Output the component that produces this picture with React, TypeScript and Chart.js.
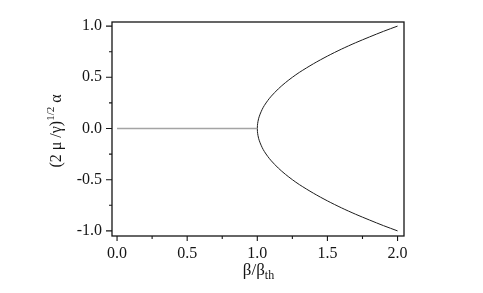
import React, { useEffect, useRef } from "react";
import { Chart, registerables } from "chart.js";

Chart.register(...registerables);

// Threshold (flat) branch: alpha = 0 for beta/beta_th below 1
const flatBeta = [0.0, 1.0];
const flatAlpha = [0.0, 0.0];

// Bifurcated branch (lower half then upper half)
const branchBeta = [1.0, 1.001, 1.005, 1.01, 1.02, 1.035, 1.05, 1.075, 1.1, 1.15, 1.2, 1.25, 1.3, 1.4, 1.5, 1.6, 1.7, 1.8, 1.9, 2.0];
const upperAlpha = [0.0, 0.03, 0.07, 0.1, 0.14, 0.187, 0.224, 0.274, 0.316, 0.387, 0.447, 0.5, 0.548, 0.632, 0.707, 0.775, 0.837, 0.894, 0.949, 1.0];
const lowerAlpha = [0.0, -0.03, -0.07, -0.1, -0.14, -0.187, -0.224, -0.274, -0.316, -0.387, -0.447, -0.5, -0.548, -0.632, -0.707, -0.775, -0.837, -0.894, -0.949, -1.0];

const xMajorTicks = [0, 0.5, 1.0, 1.5, 2.0];
const xMinorTicks = [0.25, 0.75, 1.25, 1.75];
const yMajorTicks = [-1.0, -0.5, 0.0, 0.5, 1.0];
const yMinorTicks = [-0.75, -0.25, 0.25, 0.75];

const FONT = "'Liberation Serif', 'Times New Roman', serif";
const INK = "#151515";

export default function App() {
  const ref = useRef<HTMLCanvasElement | null>(null);

  useEffect(() => {
    document.body.style.margin = "0";
    const canvas = ref.current;
    if (!canvas) return;

    const flatData = flatBeta.map((b, i) => ({ x: b, y: flatAlpha[i] }));
    const lower = branchBeta.map((b, i) => ({ x: b, y: lowerAlpha[i] })).reverse();
    const upper = branchBeta.map((b, i) => ({ x: b, y: upperAlpha[i] })).slice(1);
    const branchData = [...lower, ...upper];

    const framePlugin = {
      id: "frame",
      afterDraw(chart: any) {
        const { ctx, chartArea: a, scales } = chart;
        const xs = scales.x;
        const ys = scales.y;
        ctx.save();
        ctx.strokeStyle = INK;
        ctx.lineWidth = 1.3;
        ctx.strokeRect(a.left, a.top, a.right - a.left, a.bottom - a.top);
        ctx.lineWidth = 1.1;
        ctx.beginPath();
        xMajorTicks.forEach((v) => {
          const p = xs.getPixelForValue(v);
          ctx.moveTo(p, a.bottom);
          ctx.lineTo(p, a.bottom + 5);
        });
        xMinorTicks.forEach((v) => {
          const p = xs.getPixelForValue(v);
          ctx.moveTo(p, a.bottom);
          ctx.lineTo(p, a.bottom + 3);
        });
        yMajorTicks.forEach((v) => {
          const p = ys.getPixelForValue(v);
          ctx.moveTo(a.left, p);
          ctx.lineTo(a.left - 6, p);
        });
        yMinorTicks.forEach((v) => {
          const p = ys.getPixelForValue(v);
          ctx.moveTo(a.left, p);
          ctx.lineTo(a.left - 3, p);
        });
        ctx.stroke();

        // x title: β/β_th
        ctx.fillStyle = INK;
        ctx.textBaseline = "alphabetic";
        ctx.textAlign = "left";
        const mainX = "17px " + FONT;
        const subX = "12px " + FONT;
        ctx.font = mainX;
        const w1 = ctx.measureText("β/β").width;
        ctx.font = subX;
        const w2 = ctx.measureText("th").width;
        const cx = (a.left + a.right) / 2 + 0.5;
        const sx = cx - (w1 + w2) / 2;
        ctx.font = mainX;
        ctx.fillText("β/β", sx, 275);
        ctx.font = subX;
        ctx.fillText("th", sx + w1, 279);

        // y title: (2 μ /γ)^{1/2} α
        ctx.save();
        ctx.translate(61, (a.top + a.bottom) / 2 + 2);
        ctx.rotate(-Math.PI / 2);
        const mainY = "16px " + FONT;
        const supY = "11px " + FONT;
        ctx.font = mainY;
        const t1 = "(2 μ /γ)";
        const t3 = " α";
        const a1 = ctx.measureText(t1).width;
        const a3 = ctx.measureText(t3).width;
        ctx.font = supY;
        const a2 = ctx.measureText("1/2").width;
        let px = -(a1 + a2 + a3) / 2;
        ctx.font = mainY;
        ctx.fillText(t1, px, 0);
        px += a1;
        ctx.font = supY;
        ctx.fillText("1/2", px, -7);
        px += a2;
        ctx.font = mainY;
        ctx.fillText(t3, px, 0);
        ctx.restore();

        ctx.restore();
      },
    };

    const chart = new Chart(canvas, {
      type: "line",
      data: {
        datasets: [
          {
            data: flatData,
            borderColor: "#a4a4a4",
            borderWidth: 1.7,
            pointRadius: 0,
            tension: 0,
          },
          {
            data: branchData,
            borderColor: "#1c1c1c",
            borderWidth: 1,
            pointRadius: 0,
            tension: 0.3,
          },
        ],
      },
      options: {
        animation: false,
        responsive: false,
        maintainAspectRatio: false,
        events: [],
        layout: { padding: { top: 22, right: 79, left: 0, bottom: 0 } },
        plugins: { legend: { display: false }, tooltip: { enabled: false }, title: { display: false } },
        scales: {
          x: {
            type: "linear",
            min: -0.036,
            max: 2.046,
            afterBuildTicks: (s: any) => {
              s.ticks = xMajorTicks.map((v) => ({ value: v }));
            },
            afterFit: (s: any) => {
              s.height = 57;
            },
            grid: { display: false, drawTicks: false },
            border: { display: false },
            ticks: {
              padding: 8,
              color: INK,
              font: { family: FONT, size: 16 },
              maxRotation: 0,
              callback: (v: any) => Number(v).toFixed(1),
            },
          },
          y: {
            type: "linear",
            min: -1.05,
            max: 1.04,
            afterBuildTicks: (s: any) => {
              s.ticks = yMajorTicks.map((v) => ({ value: v }));
            },
            afterFit: (s: any) => {
              s.width = 112;
            },
            grid: { display: false, drawTicks: false },
            border: { display: false },
            ticks: {
              padding: 10,
              color: INK,
              font: { family: FONT, size: 16 },
              callback: (v: any) => Number(v).toFixed(1),
            },
          },
        },
      },
      plugins: [framePlugin],
    });

    return () => chart.destroy();
  }, []);

  return (
    <canvas
      ref={ref}
      width={483}
      height={293}
      style={{ position: "fixed", left: 0, top: 0, width: 483, height: 293, background: "#fff" }}
    />
  );
}
